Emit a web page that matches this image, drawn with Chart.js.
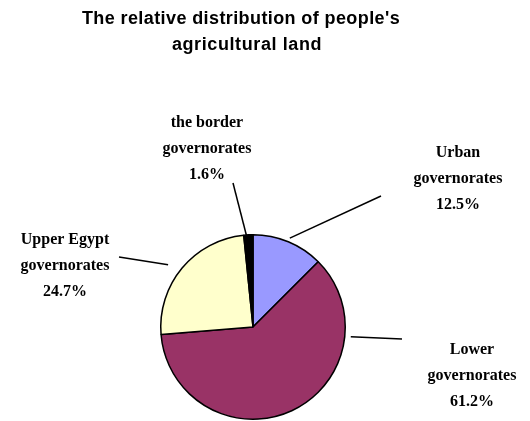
<!DOCTYPE html>
<html>
<head>
<meta charset="utf-8">
<script src="https://cdn.jsdelivr.net/npm/chart.js@4/dist/chart.umd.min.js"></script>
<style>
  html, body { margin: 0; padding: 0; background: #fff; }
  #wrap { width: 530px; height: 421px; }
</style>
</head>
<body>
<div id="wrap"><canvas id="pieChart" width="530" height="421"></canvas></div>
<script>
// data
const categories = ['Urban governorates', 'Lower governorates', 'Upper Egypt governorates', 'the border governorates']
const shares = [12.5, 61.2, 24.7, 1.6]
const sliceColors = ['#9999FF', '#993366', '#FFFFCC', '#000000']
const titleLines = ["The relative distribution of people's", 'agricultural land']

// where each label sits and how its leader line runs
const labelSpots = [
    {x: 458, y: 153, at: 0.5, gap: 4, endX: 381, endY: 196},
    {x: 472, y: 350, at: 0.23, gap: 6, endX: 402, endY: 339},
    {x: 65, y: 240, at: 0.46, gap: 13, endX: 119, endY: 257},
    {x: 207, y: 123, at: 0.3, gap: -1, endX: 233, endY: 183}
]

const labelPlugin = {
    id: 'labelPlugin',
    afterDraw(chart) {
        const ctx = chart.ctx
        ctx.save()
        // title
        ctx.fillStyle = '#000'
        ctx.font = 'bold 18px "Liberation Sans", Arial, sans-serif'
        ctx.textAlign = 'center'
        ctx.textBaseline = 'middle'
        ctx.letterSpacing = '0.4px'
        ctx.fillText(titleLines[0], 241, 19)
        ctx.letterSpacing = '0.6px'
        ctx.fillText(titleLines[1], 247, 45)
        ctx.letterSpacing = '0px'

        const meta = chart.getDatasetMeta(0)
        meta.data.forEach((arc, i) => {
            const spot = labelSpots[i]
            const p = arc.getProps(['x', 'y', 'startAngle', 'endAngle', 'outerRadius'], true)
            const a = p.startAngle + (p.endAngle - p.startAngle) * spot.at
            const r = p.outerRadius + spot.gap
            ctx.strokeStyle = '#000'
            ctx.lineWidth = 1.5
            ctx.beginPath()
            ctx.moveTo(p.x + Math.cos(a) * r, p.y + Math.sin(a) * r)
            ctx.lineTo(spot.endX, spot.endY)
            ctx.stroke()

            const name = categories[i]
            const cut = name.lastIndexOf(' ')
            const lines = [name.slice(0, cut), name.slice(cut + 1), shares[i].toFixed(1) + '%']
            ctx.font = 'bold 16px "Liberation Serif", "Times New Roman", serif'
            lines.forEach((t, k) => ctx.fillText(t, spot.x, spot.y + k * 26))
        })
        ctx.restore()
    }
}

const canvas = document.getElementById('pieChart')
const myChart = new Chart(canvas, {
    type: 'pie',
    data: {
        labels: categories,
        datasets: [{
            data: shares,
            backgroundColor: sliceColors,
            borderColor: '#000',
            borderWidth: 1.5
        }]
    },
    options: {
        responsive: false,
        animation: false,
        layout: {padding: {left: 160, right: 184, top: 234, bottom: 1}},
        plugins: {
            legend: {display: false},
            tooltip: {enabled: false},
            title: {display: false}
        }
    },
    plugins: [labelPlugin]
})
</script>
</body>
</html>
